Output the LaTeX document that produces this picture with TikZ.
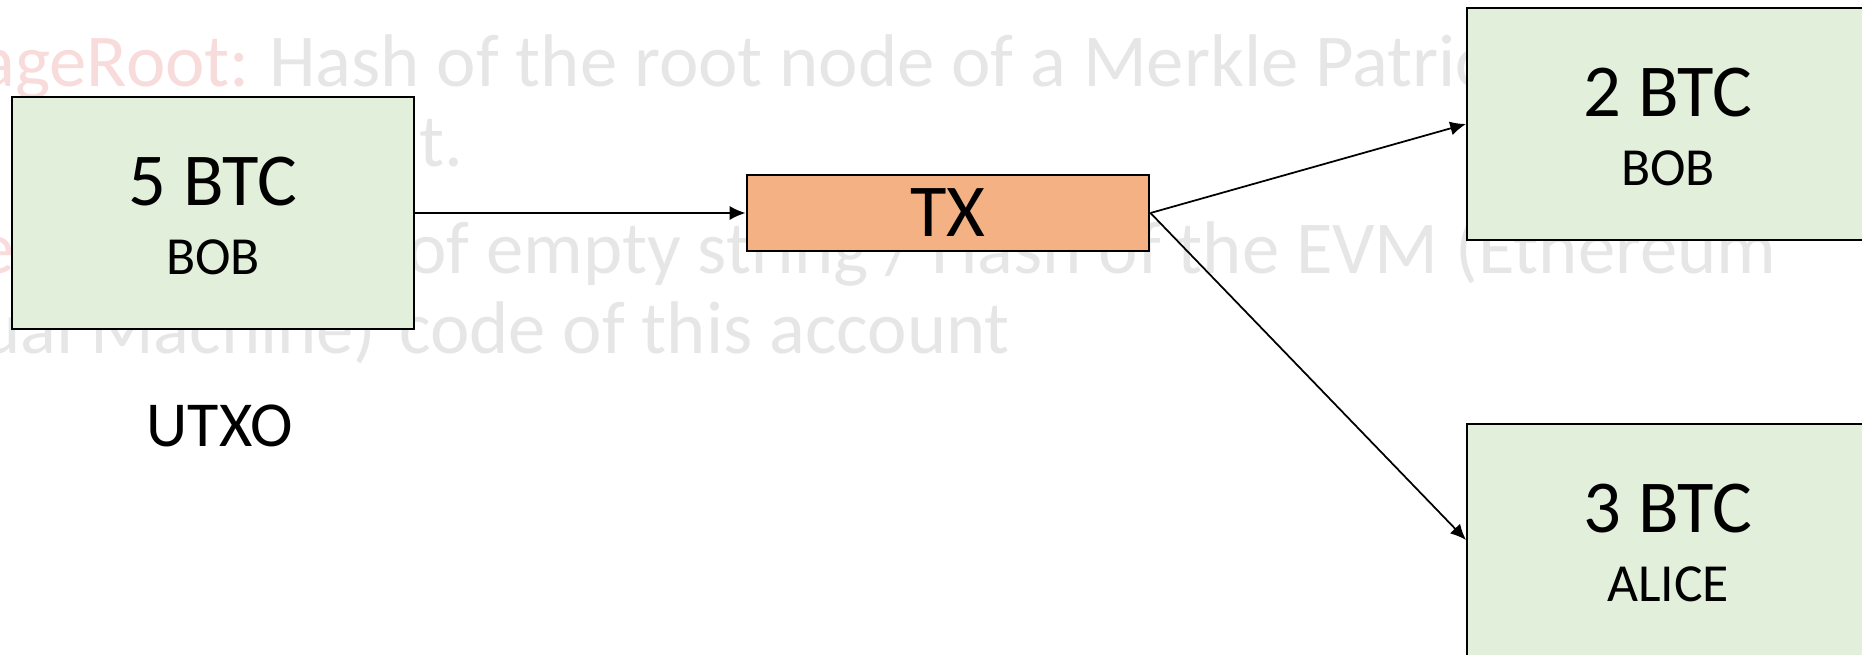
\documentclass[tikz,border=0pt]{standalone}
\usepackage{fontspec}
\setmainfont{Carlito}
\usepackage{tikz}
\usetikzlibrary{arrows.meta,positioning}

\definecolor{coinfill}{HTML}{E2EFDA}
\definecolor{txfill}{HTML}{F4B183}
\definecolor{ghostgray}{HTML}{E7E6E6}
\definecolor{ghostred}{HTML}{F8DCDC}

\newcommand{\bigtxt}{\fontsize{42.5}{39.7}\selectfont}
\newcommand{\midtxt}{\fontsize{30.5}{39.7}\selectfont}

\tikzset{
  coin/.style  = {draw, line width=1.15pt, fill=coinfill, minimum width=8.04cm,
                  minimum height=4.64cm, inner sep=0pt, align=center, font=\midtxt},
  txbox/.style = {draw, line width=1.15pt, fill=txfill, minimum width=8.06cm,
                  minimum height=1.53cm, inner sep=0pt, font=\bigtxt},
  link/.style  = {line width=1pt, -{Latex[length=9pt,width=8pt]}},
  ghost/.style = {inner sep=0pt, font=\bigtxt, text=ghostgray}
}

\begin{document}
\begin{tikzpicture}[x=0.02cm, y=-0.02cm]
      \useasboundingbox (0,0) rectangle (1862,655);
      \clip (0,0) rectangle (1862,655);

      % faded slide text behind the boxes
      \node[ghost, text=ghostred, anchor=base east] at (250, 87)  (g1a) {ageRoot:};
      \node[ghost, anchor=base west] at (269, 87)  (g1b) {Hash of the root node of a Merkle Patric};
      \node[ghost, anchor=base west] at (419, 167) (g2)  {t.};
      \node[ghost, text=ghostred, anchor=base east] at (15, 274) (g3a) {e};
      \node[ghost, anchor=base west] at (407, 274) (g3b) {of empty string / Hash of the EVM (Ethereum};
      \node[ghost, anchor=base east] at (377, 353) (g4a) {ual Machine)};
      \node[ghost, anchor=base west] at (399, 353) (g4b) {code of this account};

      \node[coin]  at ( 213, 213) (in5) {{\bigtxt\rule{0pt}{31pt}5 BTC}\\BOB};
      \node[txbox] at ( 948, 213) (tx)  {TX};
      \node[coin]  at (1668, 124) (out2) {{\bigtxt\rule{0pt}{31pt}2 BTC}\\BOB};
      \node[coin]  at (1668, 540) (out3) {{\bigtxt\rule{0pt}{31pt}3 BTC}\\ALICE};

      \node[anchor=base, inner sep=0pt, font=\fontsize{36.5}{40}\selectfont] at (220, 446) (utxo) {UTXO};

      \draw (in5) edge[link] (tx);
      \draw (tx.east) edge[link] (out2.west);
      \draw (tx.east) edge[link] (out3.west);
\end{tikzpicture}
\end{document}
